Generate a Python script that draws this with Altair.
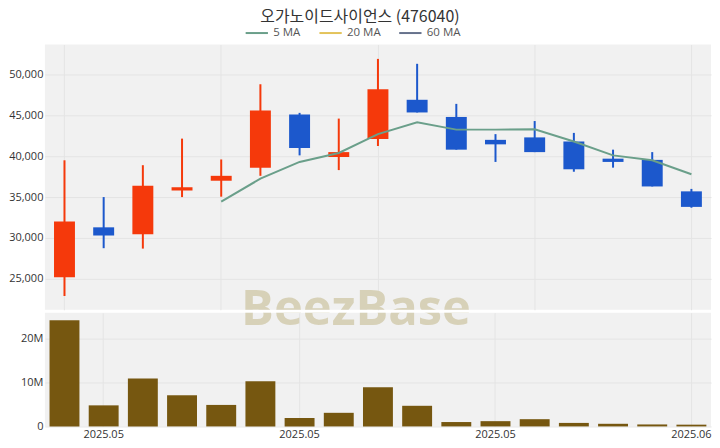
import altair as alt
import pandas as pd

dates = ["2025.05.09", "2025.05.12", "2025.05.13", "2025.05.14", "2025.05.15",
         "2025.05.16", "2025.05.19", "2025.05.20", "2025.05.21", "2025.05.22",
         "2025.05.23", "2025.05.26", "2025.05.27", "2025.05.28", "2025.05.29",
         "2025.05.30", "2025.06.02"]
opens = [25200, 31300, 30450, 35800, 37000, 38600, 45100, 39900, 42100, 46900,
         44800, 42000, 42300, 41800, 39700, 39550, 35700]
highs = [39500, 35000, 38900, 42150, 39600, 48800, 45300, 44600, 51900, 51300,
         46400, 42700, 44300, 42850, 40800, 40500, 36000]
lows = [22900, 28750, 28700, 35000, 35050, 37600, 40100, 38300, 41250, 45350,
        40800, 39300, 40500, 38100, 38600, 36300, 33700]
closes = [32000, 30300, 36400, 36200, 37600, 45600, 41000, 40500, 48200, 45350,
          40800, 41450, 40500, 38400, 39300, 36300, 33800]
volumes = [24.2e6, 4.8e6, 10.9e6, 7.1e6, 4.9e6, 10.3e6, 1.9e6, 3.1e6, 8.9e6, 4.7e6,
           1.0e6, 1.2e6, 1.65e6, 0.8e6, 0.6e6, 0.45e6, 0.4e6]
ma5_dates = dates[4:]
ma5_values = [34450, 37250, 39300, 40400, 42700, 44150, 43250, 43250, 43300,
              41800, 40100, 39500, 37800]
series_names = ["5 MA", "20 MA", "60 MA"]
series_colors = ["#6a9f8a", "#e3c35a", "#66728c"]

title_text = "오가노이드사이언스 (476040)"
watermark = "BeezBase"

UP = "#f5390b"
DOWN = "#1c58cc"
VOL = "#765710"
WM = "#d7d1b8"

PRICE_H = 266
VOL_H = 114
WM_X = 312

df = pd.DataFrame({"date": dates, "open": opens, "high": highs, "low": lows,
                   "close": closes, "volume": volumes})
ma_df = pd.DataFrame({"date": ma5_dates, "ma": ma5_values, "series": ["5 MA"] * len(ma5_values)})
wm_df = pd.DataFrame({"t": [watermark]})

xscale = alt.Scale(domain=dates, paddingInner=0, paddingOuter=0)

price_x = alt.X("date:O", scale=xscale,
                axis=alt.Axis(values=[dates[i] for i in (0, 4, 8, 12, 16)], labels=False,
                              ticks=False, domain=False, title=None, grid=True, bandPosition=0.5))
yscale = alt.Scale(domain=[21220, 53660], nice=False, zero=False)
price_y_axis = alt.Axis(values=[25000, 30000, 35000, 40000, 45000, 50000], format=",d",
                        title=None, grid=True)

cond_color = alt.condition("datum.close >= datum.open", alt.value(UP), alt.value(DOWN))

base = alt.Chart(df).encode(x=price_x)
wicks = base.mark_rule(strokeWidth=2).encode(
    y=alt.Y("low:Q", scale=yscale, axis=price_y_axis), y2="high:Q", color=cond_color)
bodies = base.mark_bar(size=21).encode(
    y=alt.Y("open:Q", scale=yscale), y2="close:Q", color=cond_color)
ma_line = alt.Chart(ma_df).mark_line(strokeWidth=2).encode(
    x=alt.X("date:O", scale=xscale),
    y=alt.Y("ma:Q", scale=yscale),
    color=alt.Color("series:N", scale=alt.Scale(domain=series_names, range=series_colors),
                    legend=alt.Legend(orient="none", legendX=200, legendY=-24,
                                      direction="horizontal", title=None,
                                      symbolType="stroke", symbolStrokeWidth=2,
                                      symbolSize=500, labelFontSize=11.5,
                                      labelColor="#555", labelFont="Open Sans",
                                      columnPadding=14, symbolOffset=0)))
wm_top = alt.Chart(wm_df).mark_text(
    font="Open Sans", fontWeight="bold", fontSize=49, color=WM, clip=True,
    align="center", baseline="middle").encode(
    text="t:N", x=alt.value(WM_X), y=alt.value(PRICE_H))

price = alt.layer(wicks, bodies, ma_line, wm_top).properties(width=668, height=PRICE_H)

vol_x = alt.X("date:O", scale=xscale,
              axis=alt.Axis(values=[dates[i] for i in (1, 6, 11, 16)],
                            labelExpr="slice(datum.value, 0, 7)", ticks=False,
                            domain=False, title=None, grid=True, labelPadding=2,
                            bandPosition=0.5, labelAngle=0))
vol_bars = alt.Chart(df).mark_bar(size=30, color=VOL).encode(
    x=vol_x,
    y=alt.Y("volume:Q", scale=alt.Scale(domain=[0, 25.9e6], nice=False),
            axis=alt.Axis(values=[0, 10e6, 20e6], title=None, grid=True,
                          labelExpr="datum.value == 0 ? '0' : format(datum.value, '~s')")))
wm_bottom = alt.Chart(wm_df).mark_text(
    font="Open Sans", fontWeight="bold", fontSize=49, color=WM, clip=True,
    align="center", baseline="middle").encode(
    text="t:N", x=alt.value(WM_X), y=alt.value(-3))
vol = alt.layer(vol_bars, wm_bottom).properties(width=668, height=VOL_H)

chart = alt.vconcat(price, vol, spacing=3).properties(
    title=alt.TitleParams(title_text, font="Noto Sans CJK KR", fontSize=16,
                          fontWeight="normal", color="#333", anchor="middle", offset=-4),
    padding={"left": 0, "top": 0, "right": 0, "bottom": 0},
).configure_view(fill="#f1f1f1", strokeWidth=0).configure_axis(
    labelFont="Open Sans", labelFontSize=11, labelColor="#333", gridColor="#e4e4e4",
    domain=False, ticks=False, labelPadding=2)

chart.save("out.html", embed_options={"renderer": "svg", "actions": False})
